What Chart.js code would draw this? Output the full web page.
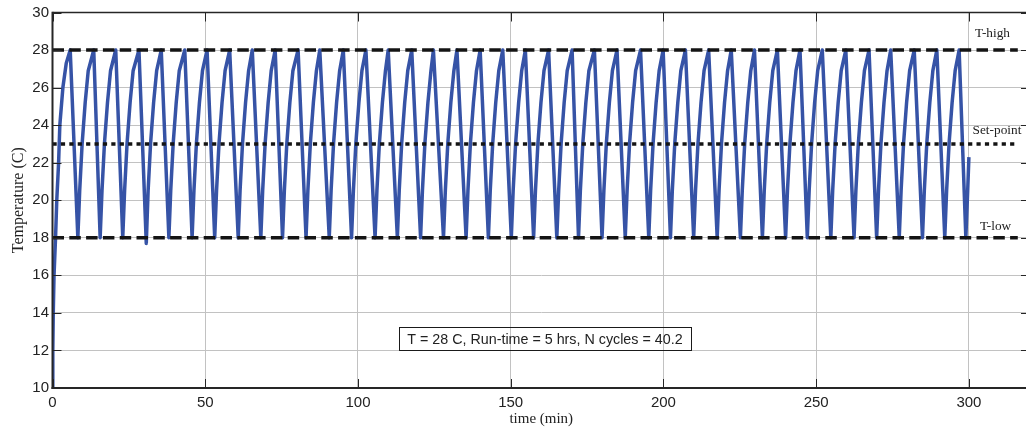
<!DOCTYPE html>
<html><head><meta charset="utf-8">
<script src="https://cdn.jsdelivr.net/npm/chart.js@4.4.1/dist/chart.umd.min.js"></script>
<style>
html,body{margin:0;padding:0;overflow:hidden;background:#fff;width:1026px;height:430px}
canvas{display:block}
</style>
</head><body>
<canvas id="c" width="1040" height="430"></canvas>
<script>
// ---- data ----
const xTicks = [0, 50, 100, 150, 200, 250, 300];
const yTicks = [10, 12, 14, 16, 18, 20, 22, 24, 26, 28, 30];

const timeMin = [
  0, 0.1, 0.25, 0.5, 1.0, 1.4, 2.0, 2.4, 3.4, 4.5, 5.8,
  8.3, 8.9, 9.7, 10.7, 11.7, 13.5,
  15.6, 16.2, 17.0, 18.0, 19.0, 20.7,
  23.0, 23.6, 24.4, 25.4, 26.4, 28.3,
  30.7, 31.3, 32.1, 33.1, 34.1, 35.6,
  38.1, 38.7, 39.5, 40.5, 41.5, 43.3,
  45.7, 46.3, 47.1, 48.1, 49.1, 50.6,
  53.1, 53.7, 54.5, 55.5, 56.5, 58.0,
  60.8, 61.4, 62.2, 63.2, 64.2, 65.4,
  68.2, 68.8, 69.6, 70.6, 71.6, 72.9,
  75.3, 75.9, 76.7, 77.7, 78.7, 80.4,
  83.0, 83.6, 84.4, 85.4, 86.4, 87.5,
  90.6, 91.2, 92.0, 93.0, 94.0, 95.2,
  97.9, 98.5, 99.3, 100.3, 101.3, 102.6,
  105.6, 106.2, 107.0, 108.0, 109.0, 109.9,
  112.9, 113.5, 114.3, 115.3, 116.3, 117.6,
  120.5, 121.1, 121.9, 122.9, 123.9, 124.7,
  128.0, 128.6, 129.4, 130.4, 131.4, 132.4,
  135.4, 136.0, 136.8, 137.8, 138.8, 140.0,
  142.7, 143.3, 144.1, 145.1, 146.1, 147.4,
  150.2, 150.8, 151.6, 152.6, 153.6, 154.8,
  157.5, 158.1, 158.9, 159.9, 160.9, 162.4,
  165.1, 165.7, 166.5, 167.5, 168.5, 170.1,
  172.2, 172.8, 173.6, 174.6, 175.6, 177.4,
  179.9, 180.5, 181.3, 182.3, 183.3, 184.8,
  187.5, 188.1, 188.9, 189.9, 190.9, 192.5,
  195.2, 195.8, 196.6, 197.6, 198.6, 199.9,
  202.3, 202.9, 203.7, 204.7, 205.7, 207.2,
  209.9, 210.5, 211.3, 212.3, 213.3, 214.8,
  217.6, 218.2, 219.0, 220.0, 221.0, 222.2,
  225.2, 225.8, 226.6, 227.6, 228.6, 229.8,
  232.4, 233.0, 233.8, 234.8, 235.8, 237.3,
  240.0, 240.6, 241.4, 242.4, 243.4, 244.7,
  247.1, 247.7, 248.5, 249.5, 250.5, 252.0,
  254.8, 255.4, 256.2, 257.2, 258.2, 259.7,
  262.4, 263.0, 263.8, 264.8, 265.8, 267.3,
  269.8, 270.4, 271.2, 272.2, 273.2, 274.4,
  277.2, 277.8, 278.6, 279.6, 280.6, 282.1,
  284.8, 285.4, 286.2, 287.2, 288.2, 289.5,
  292.1, 292.7, 293.5, 294.5, 295.5, 296.8,
  299.0, 299.6, 300.0
];
const tempC = [
  10, 12, 14, 16, 18, 20, 22, 24, 26, 27.3, 28,
  18, 20.5, 23, 25.2, 26.9, 28,
  18, 20.5, 23, 25.2, 26.9, 28,
  18, 20.5, 23, 25.2, 26.9, 28,
  17.7, 20.5, 23, 25.2, 26.9, 28,
  18, 20.5, 23, 25.2, 26.9, 28,
  18, 20.5, 23, 25.2, 26.9, 28,
  18, 20.5, 23, 25.2, 26.9, 28,
  18, 20.5, 23, 25.2, 26.9, 28,
  18, 20.5, 23, 25.2, 26.9, 28,
  18, 20.5, 23, 25.2, 26.9, 28,
  18, 20.5, 23, 25.2, 26.9, 28,
  18, 20.5, 23, 25.2, 26.9, 28,
  18, 20.5, 23, 25.2, 26.9, 28,
  18, 20.5, 23, 25.2, 26.9, 28,
  18, 20.5, 23, 25.2, 26.9, 28,
  18, 20.5, 23, 25.2, 26.9, 28,
  18, 20.5, 23, 25.2, 26.9, 28,
  18, 20.5, 23, 25.2, 26.9, 28,
  18, 20.5, 23, 25.2, 26.9, 28,
  18, 20.5, 23, 25.2, 26.9, 28,
  18, 20.5, 23, 25.2, 26.9, 28,
  18, 20.5, 23, 25.2, 26.9, 28,
  18, 20.5, 23, 25.2, 26.9, 28,
  18, 20.5, 23, 25.2, 26.9, 28,
  18, 20.5, 23, 25.2, 26.9, 28,
  18, 20.5, 23, 25.2, 26.9, 28,
  18, 20.5, 23, 25.2, 26.9, 28,
  18, 20.5, 23, 25.2, 26.9, 28,
  18, 20.5, 23, 25.2, 26.9, 28,
  18, 20.5, 23, 25.2, 26.9, 28,
  18, 20.5, 23, 25.2, 26.9, 28,
  18, 20.5, 23, 25.2, 26.9, 28,
  18, 20.5, 23, 25.2, 26.9, 28,
  18, 20.5, 23, 25.2, 26.9, 28,
  18, 20.5, 23, 25.2, 26.9, 28,
  18, 20.5, 23, 25.2, 26.9, 28,
  18, 20.5, 23, 25.2, 26.9, 28,
  18, 20.5, 23, 25.2, 26.9, 28,
  18, 20.5, 23, 25.2, 26.9, 28,
  18, 20.5, 22.3
];

const refLineTime = [0, 316];
const tHigh = [28, 28];
const setPoint = [23, 23];
const tLow = [18, 18];

const lineLabels = ['T-high', 'Set-point', 'T-low'];
const infoText = 'T = 28 C, Run-time = 5 hrs, N cycles = 40.2';
const xTitle = 'time (min)';
const yTitle = 'Temperature (C)';

// ---- build ----
const zip = (xs, ys) => xs.map((v, i) => ({x: v, y: ys[i]}));

const framePlugin = {
  id: 'frame',
  afterDraw(chart) {
    const {ctx, chartArea: a, scales: {x, y}} = chart;
    ctx.save();
    const seg = (x1, y1, x2, y2) => { ctx.beginPath(); ctx.moveTo(x1, y1); ctx.lineTo(x2, y2); ctx.stroke(); };
    ctx.strokeStyle = '#262626';
    ctx.lineWidth = 1.5;
    seg(a.left, a.top, a.right, a.top);
    seg(a.right, a.top, a.right, a.bottom);
    ctx.lineWidth = 2;
    seg(a.left, a.top - 0.75, a.left, a.bottom + 1);
    seg(a.left - 1, a.bottom, a.right, a.bottom);
    ctx.lineWidth = 1;
    x.ticks.forEach(t => {
      const px = Math.round(x.getPixelForValue(t.value)) + 0.5;
      seg(px, a.bottom, px, a.bottom - 9);
      seg(px, a.top, px, a.top + 9);
    });
    y.ticks.forEach(t => {
      const py = Math.round(y.getPixelForValue(t.value)) + 0.5;
      seg(a.left, py, a.left + 9, py);
      seg(a.right, py, a.right - 9, py);
    });
    ctx.fillStyle = '#222';
    ctx.font = '13.3px "Liberation Serif", "Times New Roman", serif';
    ctx.textAlign = 'left';
    ctx.textBaseline = 'middle';
    const labelAt = [[302, 28.9], [301.2, 23.72], [303.6, 18.6]];
    lineLabels.forEach((s, i) => {
      ctx.fillText(s, x.getPixelForValue(labelAt[i][0]), y.getPixelForValue(labelAt[i][1]));
    });
    ctx.font = '14.3px "Liberation Sans", Arial, sans-serif';
    ctx.textAlign = 'center';
    const cx = x.getPixelForValue(161.2), cy = y.getPixelForValue(12.62);
    const w = ctx.measureText(infoText).width + 17, h = 23;
    ctx.lineWidth = 1;
    ctx.strokeStyle = '#1a1a1a';
    ctx.strokeRect(Math.round(cx - w / 2) + 0.5, Math.round(cy - h / 2) + 0.5, Math.round(w), h);
    ctx.fillText(infoText, cx, cy + 1);
    ctx.restore();
  }
};

new Chart(document.getElementById('c'), {
  type: 'line',
  data: {
    datasets: [
      { data: zip(refLineTime, tHigh), borderColor: '#141414', borderWidth: 3.5, borderDash: [11.5, 5.3], pointRadius: 0 },
      { data: zip(refLineTime, setPoint), borderColor: '#141414', borderWidth: 3.5, borderDash: [4.2, 4.2], pointRadius: 0 },
      { data: zip(refLineTime, tLow), borderColor: '#141414', borderWidth: 3.5, borderDash: [11.5, 5.3], pointRadius: 0 },
      { data: zip(timeMin, tempC), borderColor: '#3653a6', borderWidth: 3.5, pointRadius: 0, borderJoinStyle: 'round', tension: 0 }
    ]
  },
  options: {
    responsive: false,
    devicePixelRatio: 1,
    animation: false,
    layout: { padding: { top: 11, right: 10, left: 0, bottom: 0 } },
    plugins: { legend: { display: false }, tooltip: { enabled: false } },
    scales: {
      x: {
        type: 'linear', min: 0, max: 320,
        afterBuildTicks: s => { s.ticks = xTicks.map(v => ({value: v})); },
        afterFit: s => { s.height = 42; },
        grid: { color: '#c2c2c2', lineWidth: 1, drawTicks: false },
        border: { display: false },
        ticks: { autoSkip: false, maxRotation: 0, padding: 6, color: '#222',
                 font: { family: '"Liberation Sans", Arial, sans-serif', size: 15 } },
        title: { display: true, text: xTitle, color: '#222', padding: { top: 0, bottom: 2 },
                 font: { family: '"Liberation Serif", "Times New Roman", serif', size: 15 } }
      },
      y: {
        type: 'linear', min: 10, max: 30,
        afterBuildTicks: s => { s.ticks = yTicks.map(v => ({value: v})); },
        afterFit: s => { s.width = 52.5; },
        grid: { color: '#c2c2c2', lineWidth: 1, drawTicks: false },
        border: { display: false },
        ticks: { padding: 3.5, color: '#222',
                 font: { family: '"Liberation Sans", Arial, sans-serif', size: 15 } },
        title: { display: true, text: yTitle, color: '#222', padding: { top: 9.5, bottom: 0 },
                 font: { family: '"Liberation Serif", "Times New Roman", serif', size: 16 } }
      }
    }
  },
  plugins: [framePlugin]
});
</script>
</body></html>
